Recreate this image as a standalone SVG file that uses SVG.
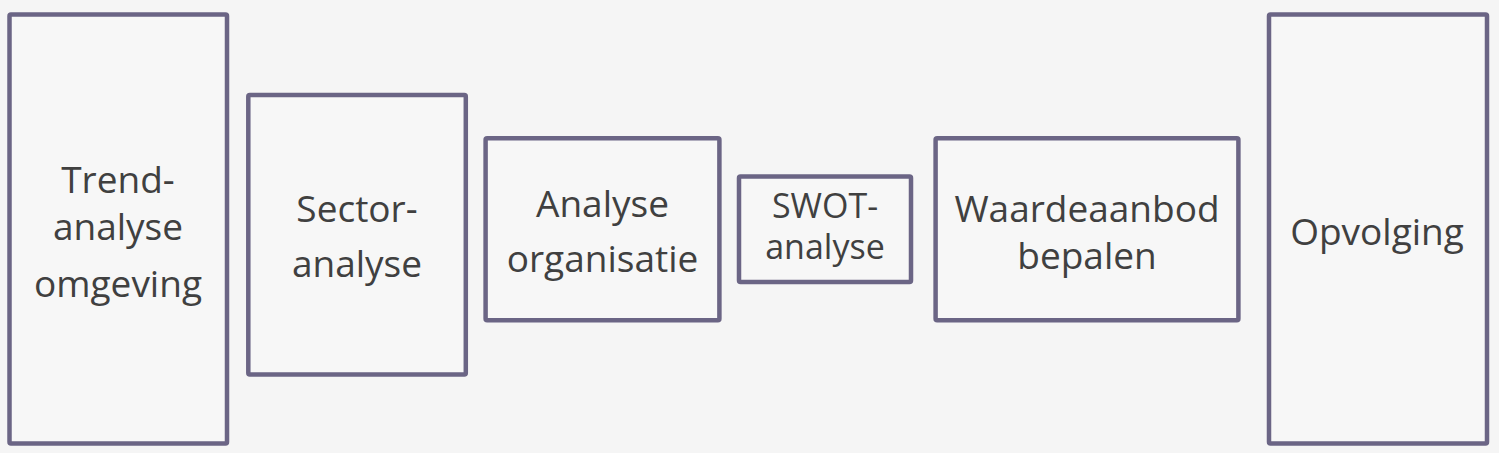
<svg xmlns="http://www.w3.org/2000/svg" width="1499" height="453" viewBox="0 0 1499 453">
<style>
.box{fill:#f7f7f7;stroke:#6b6585;stroke-width:4.5}
.t{font-family:"Open Sans","Noto Sans",sans-serif;font-size:37px;fill:#404040;text-anchor:middle}
.s{font-size:34px}
</style>
<rect width="1499" height="453" fill="#f5f5f5"/>
<g id="connectors"/>
<g id="n1"><rect class="box" x="9.5" y="14.5" width="217.5" height="429" rx="1.5"/>
<text class="t" x="118" y="193">Trend-</text><text class="t" x="118" y="240">analyse</text><text class="t" x="118" y="297">omgeving</text></g>
<g id="n2"><rect class="box" x="248.3" y="95" width="217.5" height="279.5" rx="1.5"/>
<text class="t" x="357" y="222">Sector-</text><text class="t" x="357" y="277">analyse</text></g>
<g id="n3"><rect class="box" x="485.6" y="138.3" width="233.8" height="182" rx="1.5"/>
<text class="t" x="602.5" y="217">Analyse</text><text class="t" x="602.5" y="272">organisatie</text></g>
<g id="n4"><rect class="box" x="739" y="176.5" width="172" height="105.5" rx="1.5"/>
<text class="t s" x="825" y="217.5">SWOT-</text><text class="t s" x="825" y="258.5">analyse</text></g>
<g id="n5"><rect class="box" x="935.6" y="138.3" width="302.8" height="182" rx="1.5"/>
<text class="t" x="1087" y="222">Waardeaanbod</text><text class="t" x="1087" y="268.5">bepalen</text></g>
<g id="n6"><rect class="box" x="1269" y="14.5" width="218" height="429" rx="1.5"/>
<text class="t" x="1377" y="245">Opvolging</text></g>
</svg>
